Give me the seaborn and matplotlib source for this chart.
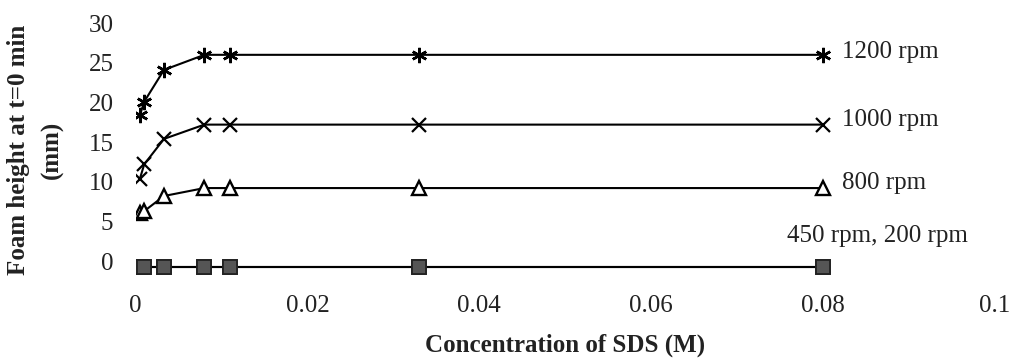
import matplotlib
matplotlib.use("Agg")
import matplotlib.pyplot as plt
import seaborn as sns
import pandas as pd

# Data
conc = [0.0005, 0.001, 0.0033, 0.008, 0.011, 0.033, 0.08]
h_1200 = [18.4, 20.1, 24.1, 26.0, 26.0, 26.0, 26.0]
h_1000 = [10.4, 12.2, 15.4, 17.2, 17.2, 17.2, 17.2]
h_800 = [6.1, 6.3, 8.2, 9.2, 9.2, 9.2, 9.2]
h_450 = [-0.8, -0.8, -0.8, -0.8, -0.8, -0.8, -0.8]
h_200 = [-0.8, -0.8, -0.8, -0.8, -0.8, -0.8, -0.8]
labels = ["1200 rpm", "1000 rpm", "800 rpm", "450 rpm, 200 rpm"]
xticks = [0, 0.02, 0.04, 0.06, 0.08, 0.1]
xticklabels = ["0", "0.02", "0.04", "0.06", "0.08", "0.1"]
yticks = [0, 5, 10, 15, 20, 25, 30]

sns.set_theme(style="white")
plt.rcParams["font.family"] = ["Liberation Serif", "DejaVu Serif"]

fig = plt.figure(figsize=(10.2, 3.61), dpi=100)
ax = fig.add_axes([0.133, 0.233, 0.842, 0.703])

series = [
    (h_1200, dict(marker=(6, 2, 0), markersize=11, markeredgewidth=1.8,
                  markerfacecolor="black", markeredgecolor="black")),
    (h_1000, dict(marker="x", markersize=10, markeredgewidth=1.6,
                  markeredgecolor="black")),
    (h_800, dict(marker="^", markersize=10, markeredgewidth=1.7,
                 markerfacecolor="white", markeredgecolor="black")),
    (h_450, dict(marker="s", markersize=10, markeredgewidth=1.3,
                 markerfacecolor="#555555", markeredgecolor="#222222")),
    (h_200, dict(marker="s", markersize=10, markeredgewidth=1.3,
                 markerfacecolor="#555555", markeredgecolor="#222222")),
]
for vals, kw in series:
    df = pd.DataFrame({"x": conc, "y": vals})
    sns.lineplot(data=df, x="x", y="y", ax=ax, color="black", linewidth=1.5,
                 sort=False, errorbar=None, **kw)

ax.set_xlim(0, 0.1)
ax.set_ylim(-2, 30)
ax.set_xticks(xticks)
ax.set_xticklabels(xticklabels)
ax.set_yticks(yticks)
ax.tick_params(axis="both", length=0, labelsize=18, colors="#222222")
ax.tick_params(axis="x", pad=13)
ax.tick_params(axis="y", pad=16)
for s in ax.spines.values():
    s.set_visible(False)

ax.set_xlabel("Concentration of SDS (M)", fontsize=18, fontweight="bold",
              labelpad=12, color="#222222")
ax.set_ylabel("Foam height at t=0 min\n(mm)", fontsize=18, fontweight="bold",
              labelpad=18, color="#222222", linespacing=1.55)

label_pos = [(0.0822, 26.3), (0.0822, 17.8), (0.0822, 9.8), (0.0758, 3.2)]
for (lx, ly), txt in zip(label_pos, labels):
    ax.text(lx, ly, txt, fontsize=18, va="center", ha="left", color="#222222")

fig.savefig("out.png", dpi=100)
